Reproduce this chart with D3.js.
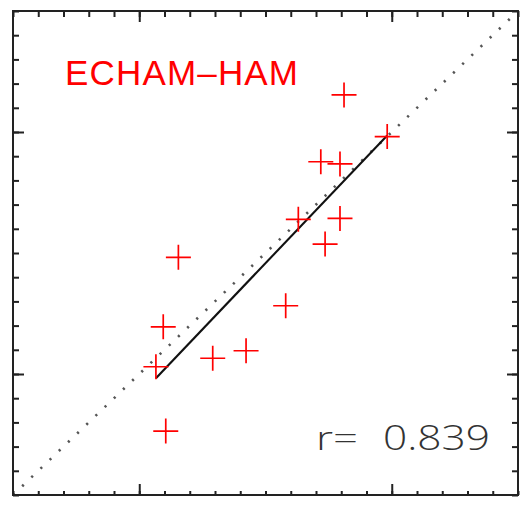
<!DOCTYPE html>
<html>
<head>
<meta charset="utf-8">
<script src="https://cdn.jsdelivr.net/npm/d3@7"></script>
<style>
  html, body { margin: 0; padding: 0; background: #fff; }
  svg { display: block; }
</style>
</head>
<body>
<svg id="chart" width="529" height="505"></svg>
<script>
// Observed (x) vs modelled (y) values, one cross per station
const obsValues   = [1.811, 1.982, 1.719, 1.795, 1.630, 1.795, 1.736, 1.155, 1.580, 1.095, 1.423, 1.291, 1.066, 1.105];
const modelValues = [2.153, 1.981, 1.877, 1.868, 1.639, 1.643, 1.537, 1.482, 1.282, 1.195, 1.096, 1.065, 1.030, 0.764];

const axisDomain = [0.5, 2.5];
const majorTicks = [1.0, 2.0];
const minorTicks = d3.range(0, 21).map(i => +(0.5 + i * 0.1).toFixed(2));

const modelName = "ECHAM–HAM";
const rPrefix = "r=";
const rValue = "0.839";

const margin = { left: 13, top: 11, right: 11, bottom: 10 };
const W = 529 - margin.left - margin.right;   // 505
const H = 505 - margin.top - margin.bottom;   // 484

const svg = d3.select("#chart");
const g = svg.append("g").attr("transform", `translate(${margin.left},${margin.top})`);

const x = d3.scaleLinear().domain(axisDomain).range([0, W]);
const y = d3.scaleLinear().domain(axisDomain).range([H, 0]);

// 1:1 reference line
g.append("line")
  .attr("x1", x(axisDomain[0])).attr("y1", y(axisDomain[0]))
  .attr("x2", x(axisDomain[1])).attr("y2", y(axisDomain[1]))
  .attr("stroke", "#555").attr("stroke-width", 2.6)
  .attr("stroke-dasharray", "2.2,10.5");

// least-squares fit, drawn over the observed range
const mx = d3.mean(obsValues), my = d3.mean(modelValues);
let sxy = 0, sxx = 0;
obsValues.forEach((v, i) => { sxy += (v - mx) * (modelValues[i] - my); sxx += (v - mx) * (v - mx); });
const slope = sxy / sxx, intercept = my - slope * mx;
const [xmin, xmax] = d3.extent(obsValues);
g.append("line")
  .attr("x1", x(xmin)).attr("y1", y(intercept + slope * xmin))
  .attr("x2", x(xmax)).attr("y2", y(intercept + slope * xmax))
  .attr("stroke", "#111").attr("stroke-width", 2.1);

// crosses
const arm = 12.5;
g.append("g").selectAll("path")
  .data(obsValues.map((v, i) => [v, modelValues[i]]))
  .join("path")
  .attr("d", d => {
    const px = x(d[0]), py = y(d[1]);
    return `M${px - arm},${py}H${px + arm}M${px},${py - arm}V${py + arm}`;
  })
  .attr("stroke", "#ff0000").attr("stroke-width", 1.7).attr("fill", "none");

// inward ticks on all four sides
function ticks(axisFn, scale, vals, size, transform) {
  const a = axisFn(scale).tickValues(vals).tickSize(-size).tickFormat("");
  const sel = g.append("g").attr("transform", transform).call(a);
  sel.select(".domain").remove();
  sel.selectAll("line").attr("stroke", "#222").attr("stroke-width", 2);
}
ticks(d3.axisBottom, x, minorTicks, 4, `translate(0,${H})`);
ticks(d3.axisBottom, x, majorTicks, 11, `translate(0,${H})`);
ticks(d3.axisTop, x, minorTicks, 6, `translate(0,0)`);
ticks(d3.axisTop, x, majorTicks, 11, `translate(0,0)`);
ticks(d3.axisLeft, y, minorTicks, 6, `translate(0,0)`);
ticks(d3.axisLeft, y, majorTicks, 11, `translate(0,0)`);
ticks(d3.axisRight, y, minorTicks, 6, `translate(${W},0)`);
ticks(d3.axisRight, y, majorTicks, 11, `translate(${W},0)`);

// frame
g.append("rect").attr("x", 0).attr("y", 0).attr("width", W).attr("height", H)
  .attr("fill", "none").attr("stroke", "#222").attr("stroke-width", 2);

// labels
svg.append("text")
  .attr("x", 65).attr("y", 84.5)
  .attr("textLength", 233)
  .attr("font-family", "'Liberation Sans', Arial, sans-serif")
  .attr("font-size", 35)
  .attr("fill", "#ff0000")
  .text(modelName);

svg.append("text")
  .attr("x", 316).attr("y", 449.5)
  .attr("textLength", 42)
  .attr("lengthAdjust", "spacingAndGlyphs")
  .attr("font-family", "'Open Sans', sans-serif")
  .attr("font-weight", 300)
  .attr("font-size", 33)
  .attr("fill", "#333")
  .text(rPrefix);

svg.append("text")
  .attr("x", 383).attr("y", 449.5)
  .attr("textLength", 107)
  .attr("lengthAdjust", "spacingAndGlyphs")
  .attr("font-family", "'Open Sans', sans-serif")
  .attr("font-weight", 300)
  .attr("font-size", 34)
  .attr("fill", "#333")
  .text(rValue);
</script>
</body>
</html>
